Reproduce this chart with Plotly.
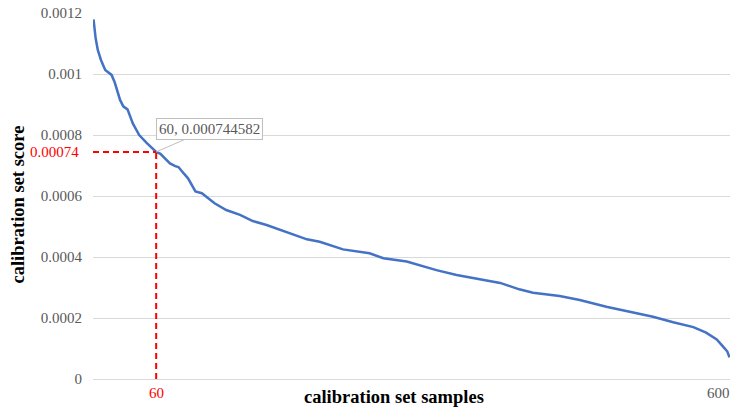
import plotly.graph_objects as go

# sample index (sorted calibration set) and score
samples = [1, 3, 5, 8, 12, 18, 21, 26, 29, 33, 38, 44, 51, 55, 60, 64, 70, 73, 78, 81,
           86, 90, 97, 103, 115, 126, 139, 151, 164, 177, 189, 202, 214, 236, 261, 274,
           296, 324, 343, 362, 384, 402, 415, 440, 459, 484, 509, 528, 547, 566, 578,
           588, 594, 598, 600]
scores = [0.001179, 0.001117, 0.001079, 0.001046, 0.001013, 0.000997, 0.000972, 0.000915,
          0.000894, 0.000884, 0.000838, 0.000800, 0.000774, 0.000762, 0.000744582, 0.000738,
          0.000718, 0.000707, 0.000698, 0.000695, 0.000674, 0.000658, 0.000615, 0.000609,
          0.000576, 0.000554, 0.000538, 0.000518, 0.000505, 0.000489, 0.000472, 0.000458,
          0.000450, 0.000425, 0.000412, 0.000396, 0.000385, 0.000357, 0.000341, 0.000330,
          0.000315, 0.000294, 0.000283, 0.000272, 0.000259, 0.000237, 0.000219, 0.000204,
          0.000186, 0.000170, 0.000152, 0.000130, 0.000106, 0.000090, 0.000071]

marker_x = 60
marker_y = 0.000744582
marker_y_label = "0.00074"
n_samples = 600

y_tickvals = [0, 0.0002, 0.0004, 0.0006, 0.0008, 0.001, 0.0012]
y_ticktext = ["0", "0.0002", "0.0004", "0.0006", "0.0008", "0.001", "0.0012"]

SERIF = "Liberation Serif, Times New Roman, serif"
GRAY = "#595959"

fig = go.Figure()
fig.add_trace(go.Scatter(x=samples, y=scores, mode="lines",
                         line=dict(color="#4472C4", width=2.5), hoverinfo="skip"))
# red dashed guide lines
fig.add_trace(go.Scatter(x=[0.5, marker_x], y=[marker_y, marker_y], mode="lines",
                         line=dict(color="#FF0000", width=2, dash="6px,4px"), hoverinfo="skip"))
fig.add_trace(go.Scatter(x=[marker_x, marker_x], y=[0, marker_y], mode="lines",
                         line=dict(color="#FF0000", width=2, dash="6px,4px"), hoverinfo="skip"))

annotations = [
    dict(x=marker_x, y=marker_y, xref="x", yref="y",
         text=f"{marker_x}, {marker_y}", showarrow=True, arrowhead=0,
         arrowcolor="#bfbfbf", arrowwidth=1, ax=53, ay=-23,
         font=dict(family=SERIF, size=15, color=GRAY),
         bordercolor="#bfbfbf", borderwidth=1, borderpad=2, bgcolor="white"),
    dict(x=0, y=marker_y, xref="paper", yref="y", text=marker_y_label, showarrow=False,
         xanchor="right", yanchor="middle", xshift=-12,
         font=dict(family=SERIF, size=15, color="#FF0000")),
    dict(x=marker_x, y=0, xref="x", yref="paper", text=str(marker_x), showarrow=False,
         xanchor="center", yanchor="top", yshift=-4,
         font=dict(family=SERIF, size=15, color="#FF0000")),
    dict(x=1, y=0, xref="paper", yref="paper", text=str(n_samples), showarrow=False,
         xanchor="right", yanchor="top", yshift=-4, xshift=2,
         font=dict(family=SERIF, size=15, color=GRAY)),
    dict(x=0.4725, y=0, xref="paper", yref="paper", text="<b>calibration set samples</b>",
         showarrow=False, xanchor="center", yanchor="middle", yshift=-18,
         font=dict(family=SERIF, size=18.5, color="black")),
    dict(x=-0.1177, y=0.4768, xref="paper", yref="paper", text="<b>calibration set score</b>",
         showarrow=False, xanchor="center", yanchor="middle", textangle=-90,
         font=dict(family=SERIF, size=18.5, color="black")),
]

fig.update_layout(
    width=732, height=409,
    margin=dict(l=93, r=2, t=13, b=30),
    paper_bgcolor="white", plot_bgcolor="white",
    showlegend=False,
    annotations=annotations,
    xaxis=dict(range=[0.5, n_samples + 0.5], showgrid=False, zeroline=False,
               showticklabels=False, showline=True, linecolor="#d9d9d9", linewidth=1,
               fixedrange=True),
    yaxis=dict(range=[0, 0.0012], tickvals=y_tickvals, ticktext=y_ticktext,
               showgrid=True, gridcolor="#d9d9d9", gridwidth=1, zeroline=False,
               showline=False, ticks="", ticklabelstandoff=10,
               tickfont=dict(family=SERIF, size=15, color=GRAY), fixedrange=True),
)

fig.write_html(
    "out.html",
    config={"displayModeBar": False},
    post_script="document.body.style.margin='0';document.body.style.padding='0';"
                "document.body.style.overflow='hidden';",
)
